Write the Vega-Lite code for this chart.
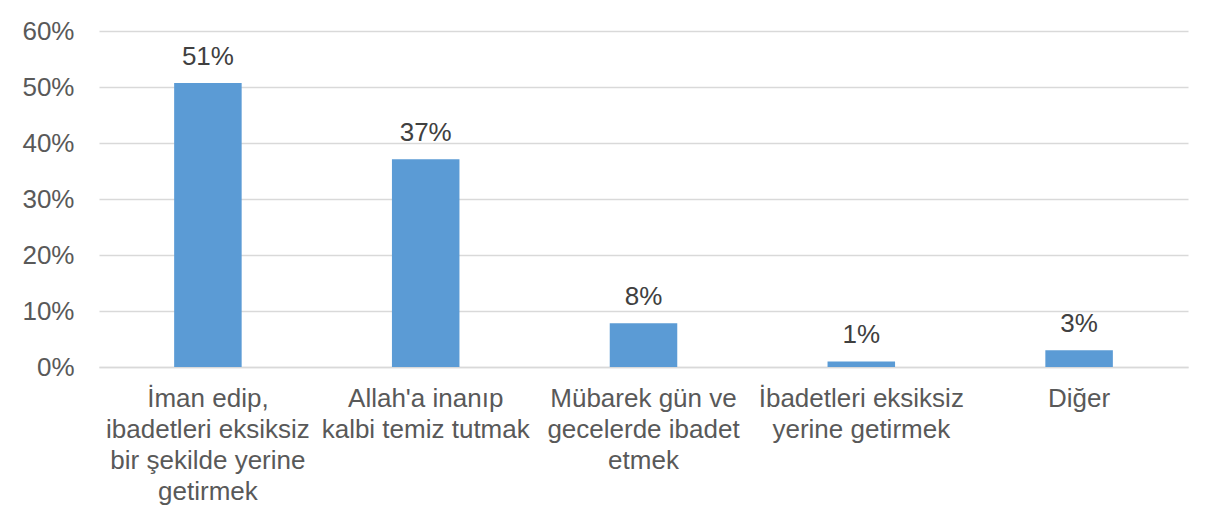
{
  "$schema": "https://vega.github.io/schema/vega-lite/v6.json",
  "width": 1089,
  "height": 336,
  "autosize": {"type": "none"},
  "padding": {"left": 99, "top": 31, "right": 27, "bottom": 157},
  "background": "white",
  "config": {
    "view": {"stroke": null},
    "font": "Liberation Sans"
  },
  "data": {
    "values": [
      {"category": "İman edip, ibadetleri eksiksiz bir şekilde yerine getirmek", "value": 0.507, "label": "51%"},
      {"category": "Allah'a inanıp kalbi temiz tutmak", "value": 0.371, "label": "37%"},
      {"category": "Mübarek gün ve gecelerde ibadet etmek", "value": 0.078, "label": "8%"},
      {"category": "İbadetleri eksiksiz yerine getirmek", "value": 0.01, "label": "1%"},
      {"category": "Diğer", "value": 0.03, "label": "3%"}
    ]
  },
  "encoding": {
    "x": {
      "field": "category",
      "type": "nominal",
      "sort": null,
      "scale": {"paddingInner": 0.69, "paddingOuter": 0.345},
      "axis": {
        "title": null,
        "labelAngle": 0,
        "ticks": false,
        "domainColor": "#D9D9D9",
        "domainWidth": 1.5,
        "labelFont": "Liberation Sans",
        "labelFontSize": 26,
        "labelColor": "#595959",
        "labelPadding": 18,
        "labelLineHeight": 31,
        "labelLimit": 0,
        "labelExpr": "{'İman edip, ibadetleri eksiksiz bir şekilde yerine getirmek': ['İman edip,', 'ibadetleri eksiksiz', 'bir şekilde yerine', 'getirmek'], 'Allah\\'a inanıp kalbi temiz tutmak': ['Allah\\'a inanıp', 'kalbi temiz tutmak'], 'Mübarek gün ve gecelerde ibadet etmek': ['Mübarek gün ve', 'gecelerde ibadet', 'etmek'], 'İbadetleri eksiksiz yerine getirmek': ['İbadetleri eksiksiz', 'yerine getirmek'], 'Diğer': ['Diğer']}[datum.label]"
      }
    },
    "y": {
      "field": "value",
      "type": "quantitative",
      "scale": {"domain": [0, 0.6], "nice": false},
      "axis": {
        "title": null,
        "format": ".0%",
        "values": [0, 0.1, 0.2, 0.3, 0.4, 0.5, 0.6],
        "domain": false,
        "ticks": false,
        "gridColor": "#D9D9D9",
        "gridWidth": 1.5,
        "labelFont": "Liberation Sans",
        "labelFontSize": 26,
        "labelColor": "#595959",
        "labelPadding": 25
      }
    }
  },
  "layer": [
    {"mark": {"type": "bar", "color": "#5B9BD5"}},
    {
      "mark": {"type": "text", "baseline": "alphabetic", "dy": -18, "fontSize": 26, "color": "#404040", "font": "Liberation Sans"},
      "encoding": {"text": {"field": "label"}}
    }
  ]
}
